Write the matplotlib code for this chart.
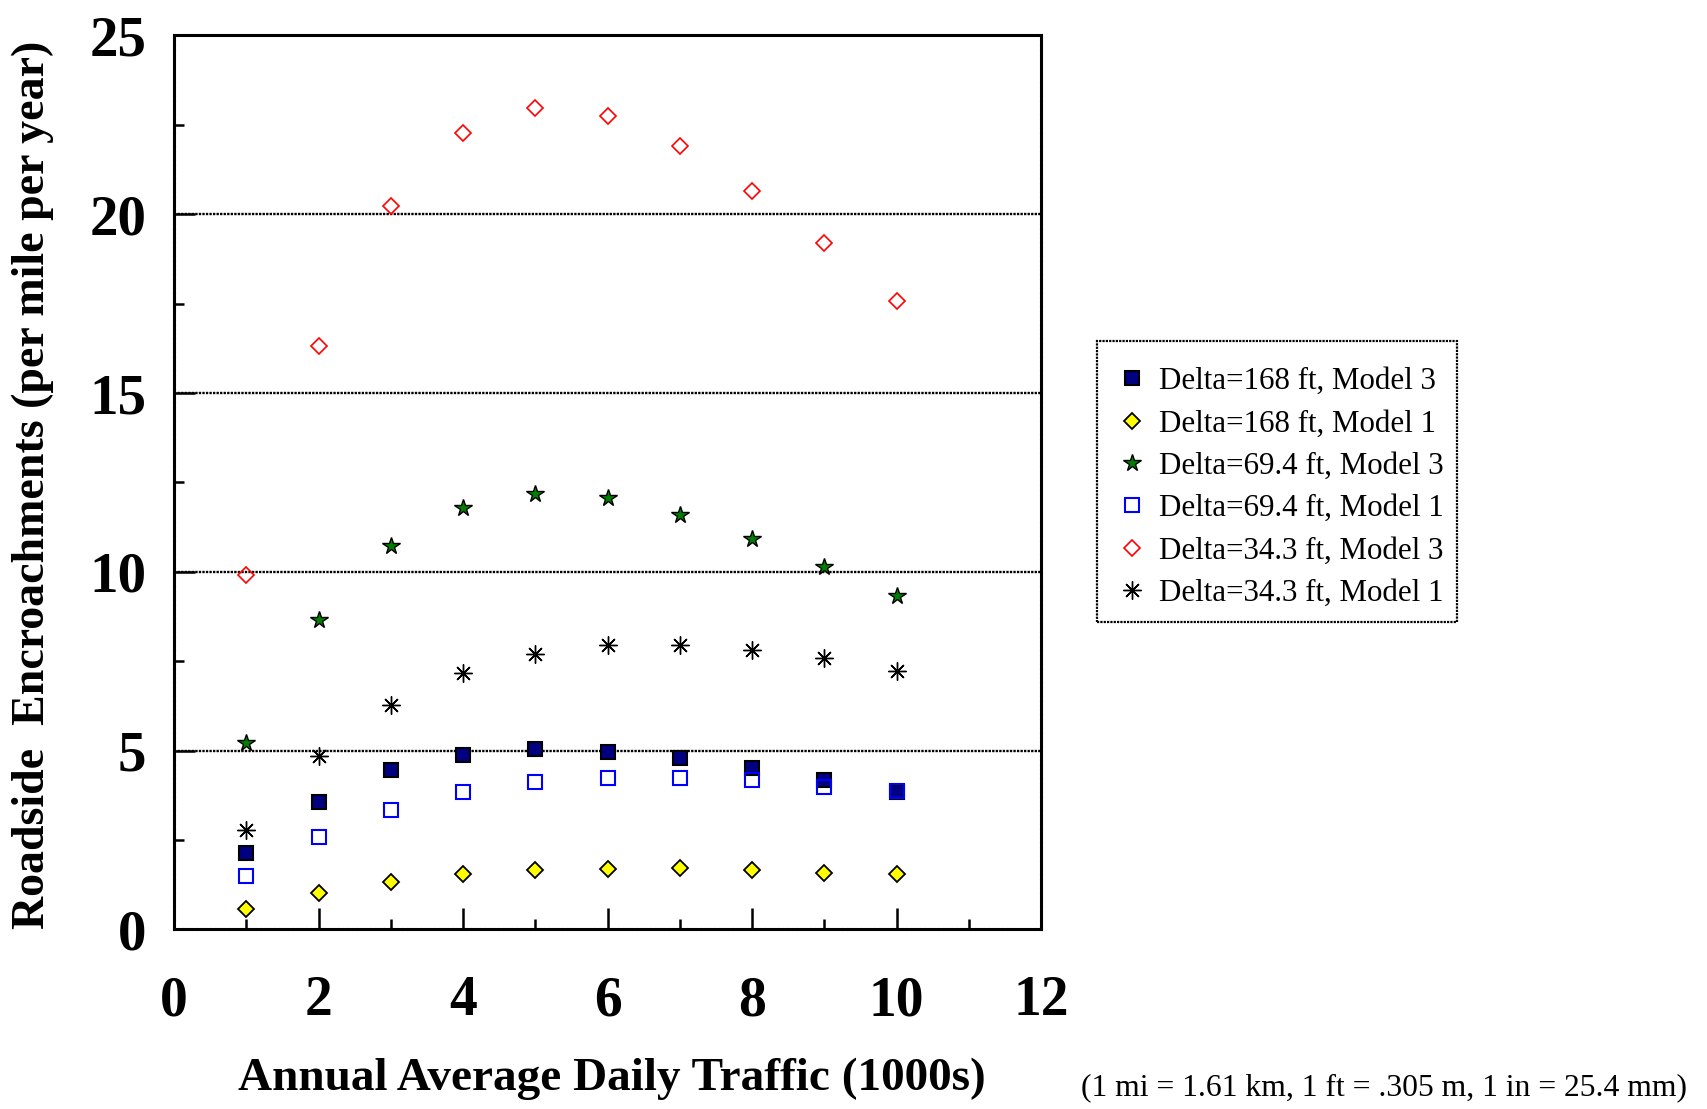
import matplotlib
matplotlib.use("Agg")
import matplotlib.pyplot as plt
from matplotlib.patches import Rectangle
from matplotlib.ticker import MultipleLocator

plt.rcParams['font.family'] = ['Liberation Serif', 'DejaVu Serif']

# Annual average daily traffic (1000s)
aadt = [1, 2, 3, 4, 5, 6, 7, 8, 9, 10]

# Roadside encroachments (per mile per year)
d168_m3 = [2.13, 3.57, 4.45, 4.89, 5.04, 4.97, 4.78, 4.52, 4.17, 3.84]
d168_m1 = [0.57, 1.01, 1.32, 1.55, 1.66, 1.70, 1.72, 1.65, 1.57, 1.55]
d69_m3 = [5.22, 8.65, 10.72, 11.78, 12.18, 12.06, 11.60, 10.93, 10.14, 9.32]
d69_m1 = [1.49, 2.59, 3.34, 3.84, 4.12, 4.24, 4.24, 4.17, 3.98, 3.87]
d34_m3 = [9.90, 16.32, 20.22, 22.26, 22.96, 22.75, 21.92, 20.65, 19.21, 17.57]
d34_m1 = [2.79, 4.86, 6.27, 7.16, 7.70, 7.95, 7.95, 7.80, 7.58, 7.22]

labels = ['Delta=168 ft, Model 3', 'Delta=168 ft, Model 1',
          'Delta=69.4 ft, Model 3', 'Delta=69.4 ft, Model 1',
          'Delta=34.3 ft, Model 3', 'Delta=34.3 ft, Model 1']

fig = plt.figure(figsize=(17.07, 11.09), dpi=100)
ax = fig.add_axes([0.102, 0.162, 0.508, 0.806])

# gridlines at major y ticks
for yv in [5, 10, 15, 20]:
    ax.axhline(yv, color='black', linestyle=(0, (1, 0.5)), linewidth=1.7, zorder=1)

ax.plot(aadt, d168_m3, 's', ms=10.5, mfc='#000080', mec='black', mew=1.5,
        label=labels[0], zorder=3)
ax.plot(aadt, d168_m1, 'D', ms=8, mfc='#ffff00', mec='black', mew=1.3,
        label=labels[1], zorder=3)
ax.plot(aadt, d69_m3, '*', ms=13, mfc='#008000', mec='black', mew=1.0,
        label=labels[2], zorder=3)
ax.plot(aadt, d69_m1, 's', ms=10, mfc='none', mec='#0000ff', mew=1.5,
        label=labels[3], zorder=3)
ax.plot(aadt, d34_m3, 'D', ms=8, mfc='none', mec='#ff0000', mew=1.2,
        label=labels[4], zorder=3)
ax.plot(aadt, d34_m1, marker=(8, 2, 0), ls='none', ms=13, color='black', mew=1.0,
        label=labels[5], zorder=3)

ax.set_xlim(0, 12)
ax.set_ylim(0, 25)
ax.xaxis.set_major_locator(MultipleLocator(2))
ax.xaxis.set_minor_locator(MultipleLocator(1))
ax.yaxis.set_major_locator(MultipleLocator(5))
ax.yaxis.set_minor_locator(MultipleLocator(2.5))

ax.tick_params(axis='both', which='both', direction='in', top=False, right=False,
               color='black', width=1.8)
ax.tick_params(axis='x', which='major', length=15, pad=33, labelsize=40)
ax.tick_params(axis='x', which='minor', length=7)
ax.tick_params(axis='y', which='major', length=15, pad=20, labelsize=41)
ax.tick_params(axis='y', which='minor', length=7)
for lbl in ax.get_xticklabels() + ax.get_yticklabels():
    lbl.set_fontweight('bold')

for side in ['left', 'bottom', 'right']:
    ax.spines[side].set_linestyle((0, (1, 0.5)))
    ax.spines[side].set_linewidth(2.2)
ax.spines['top'].set_linewidth(2.2)

fig.text(0.019, 0.563, 'Roadside  Encroachments (per mile per year)', rotation=90,
         ha='center', va='center', fontsize=33, fontweight='bold')
fig.text(0.3585, 0.027, 'Annual Average Daily Traffic (1000s)',
         ha='center', va='center', fontsize=34, fontweight='bold')
fig.text(0.811, 0.019, '(1 mi = 1.61 km, 1 ft = .305 m, 1 in = 25.4 mm)',
         ha='center', va='center', fontsize=22.8)

# legend without its own frame; the box is drawn separately
leg = fig.legend(loc='center left', bbox_to_anchor=(0.654, 0.5605), fontsize=22.3,
                 frameon=False, handlelength=1.0, handletextpad=0.39,
                 labelspacing=0.43, borderpad=0, borderaxespad=0)
box = Rectangle((0.6427, 0.4391), 0.2108, 0.2534, transform=fig.transFigure,
                fill=False, edgecolor='black', linewidth=1.6,
                linestyle=(0, (1, 0.5)))
fig.patches.append(box)

fig.savefig('out.png', dpi=100)
